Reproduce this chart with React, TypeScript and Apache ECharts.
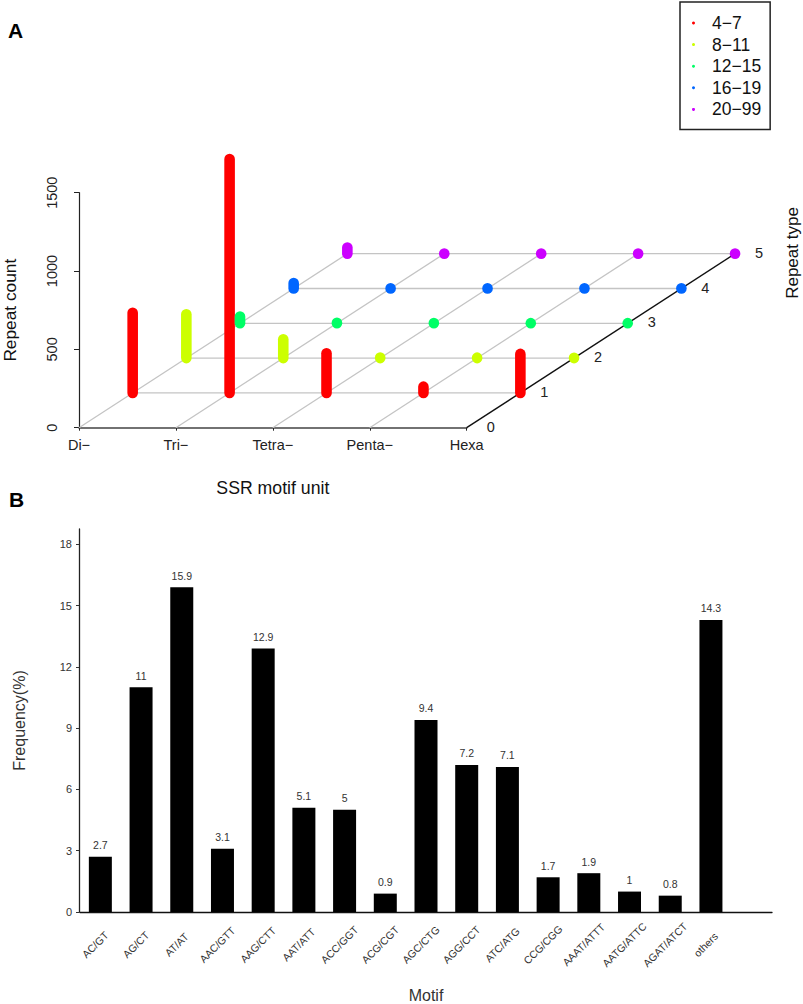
import React, { useEffect, useRef } from 'react';
import * as echarts from 'echarts';

const FONT = '"Liberation Sans", Arial, sans-serif';

// Panel A
const motifUnits = ['Di−', 'Tri−', 'Tetra−', 'Penta−', 'Hexa'];
const depthLevels = [0, 1, 2, 3, 4, 5];
const repeatClasses = ['4−7', '8−11', '12−15', '16−19', '20−99'];
const classColors = ['#ff0000', '#ccff00', '#00ff66', '#0066ff', '#cc00ff'];
const counts4to7 = [512, 1493, 253, 40, 249];
const counts8to11 = [280, 120, 4, 3, 2];
const counts12to15 = [43, 3, 2, 1, 1];
const counts16to19 = [35, 2, 1, 1, 1];
const counts20to99 = [40, 1, 1, 1, 1];
const classCounts = [counts4to7, counts8to11, counts12to15, counts16to19, counts20to99];

// Panel B
const motifs = [
  'AC/GT', 'AG/CT', 'AT/AT', 'AAC/GTT', 'AAG/CTT', 'AAT/ATT', 'ACC/GGT', 'ACG/CGT',
  'AGC/CTG', 'AGG/CCT', 'ATC/ATG', 'CCG/CGG', 'AAAT/ATTT', 'AATG/ATTC', 'AGAT/ATCT', 'others', '',
];
const frequencies = [2.7, 11, 15.9, 3.1, 12.9, 5.1, 5, 0.9, 9.4, 7.2, 7.1, 1.7, 1.9, 1, 0.8, 14.3, null];
const frequencyTicks = [0, 3, 6, 9, 12, 15, 18];

// oblique projection of the depth axis, px per repeat type
const DEPTH_DX = 53.67;
const DEPTH_DY = -34.8;

const shear = (p: number[], depth: number) => [p[0] + depth * DEPTH_DX, p[1] + depth * DEPTH_DY];

const App: React.FC = () => {
  const chartRef = useRef<HTMLDivElement>(null);

  useEffect(() => {
    if (!chartRef.current) return;
    const chart = echarts.init(chartRef.current, null, { renderer: 'svg' });

    const lastUnit = motifUnits.length - 1;
    const lastDepth = depthLevels[depthLevels.length - 1];
    const floorLines = [
      ...motifUnits.map((_, i) => [i, 0, i, lastDepth]),
      ...depthLevels.slice(1).map((d) => [0, d, lastUnit, d]),
    ];

    const option: any = {
      animation: false,
      textStyle: { fontFamily: FONT },
      legend: {
        left: 680,
        top: 2,
        orient: 'vertical',
        data: repeatClasses,
        icon: 'circle',
        itemWidth: 3,
        itemHeight: 3,
        itemGap: 3.6,
        padding: [12, 9, 11, 12],
        borderColor: '#222',
        borderWidth: 1.5,
        selectedMode: false,
        textStyle: { fontSize: 17.5, color: '#111', fontFamily: FONT, padding: [0, 0, 0, 12] },
      },
      graphic: [
        { type: 'text', x: 8, y: 20, style: { text: 'A', font: `bold 21px ${FONT}`, fill: '#000' } },
        { type: 'text', x: 9, y: 489, style: { text: 'B', font: `bold 21px ${FONT}`, fill: '#000' } },
        {
          type: 'text',
          x: 792,
          y: 253,
          rotation: Math.PI / 2,
          style: {
            text: 'Repeat type',
            font: `17px ${FONT}`,
            fill: '#111',
            align: 'center',
            verticalAlign: 'middle',
          },
        },
      ],
      grid: [
        { left: 77.3, top: 192.7, width: 389.4, height: 235 },
        { left: 80, top: 529, width: 692, height: 385 },
      ],
      xAxis: [
        {
          type: 'category',
          gridIndex: 0,
          data: motifUnits,
          boundaryGap: false,
          name: 'SSR motif unit',
          nameLocation: 'middle',
          nameGap: 51,
          nameTextStyle: { fontSize: 17.7, color: '#111', fontFamily: FONT },
          axisLine: { lineStyle: { color: '#444', width: 1.6 } },
          axisTick: { length: 3, lineStyle: { color: '#222', width: 1 } },
          axisLabel: { interval: 0, margin: 10, fontSize: 14.5, color: '#222', fontFamily: FONT },
        },
        {
          type: 'category',
          gridIndex: 1,
          data: motifs,
          name: 'Motif',
          nameLocation: 'middle',
          nameGap: 75,
          nameTextStyle: { fontSize: 16, color: '#333', fontFamily: FONT },
          axisLine: { lineStyle: { color: '#111', width: 1.3 } },
          axisTick: { inside: true, length: 3, interval: 0, lineStyle: { color: '#333', width: 1 } },
          axisLabel: {
            interval: 0,
            rotate: 45,
            align: 'center',
            verticalAlign: 'middle',
            padding: [0, 14, 12, 0],
            margin: 28,
            fontSize: 10.5,
            color: '#333',
            fontFamily: FONT,
          },
        },
      ],
      yAxis: [
        {
          type: 'value',
          gridIndex: 0,
          min: 0,
          max: 1500,
          interval: 500,
          name: 'Repeat count',
          nameLocation: 'middle',
          nameGap: 61,
          nameTextStyle: { fontSize: 17.3, color: '#111', fontFamily: FONT },
          axisLine: { show: true, lineStyle: { color: '#222', width: 1.2 } },
          axisTick: { show: true, length: 5, lineStyle: { color: '#222', width: 1 } },
          axisLabel: {
            rotate: 90,
            margin: 20,
            fontSize: 14.5,
            color: '#222',
            fontFamily: FONT,
            formatter: (v: number) => String(v),
          },
          splitLine: { show: false },
        },
        {
          type: 'value',
          gridIndex: 1,
          min: 0,
          max: 18.75,
          offset: 1,
          name: 'Frequency(%)',
          nameLocation: 'middle',
          nameGap: 52,
          nameTextStyle: { fontSize: 16, color: '#333', fontFamily: FONT },
          axisLine: { show: true, lineStyle: { color: '#222', width: 1.3 } },
          axisTick: { show: true, length: 3, customValues: frequencyTicks, lineStyle: { color: '#333', width: 1 } },
          axisLabel: { customValues: frequencyTicks, margin: 7, fontSize: 11, color: '#333', fontFamily: FONT },
          splitLine: { show: false },
        },
      ],
      series: [
        {
          type: 'custom',
          xAxisIndex: 0,
          yAxisIndex: 0,
          silent: true,
          data: floorLines,
          encode: { x: 0, y: 1 },
          renderItem: (_: any, api: any) => {
            const [x0, d0, x1, d1] = [api.value(0), api.value(1), api.value(2), api.value(3)];
            const a = shear(api.coord([x0, 0]), d0);
            const b = shear(api.coord([x1, 0]), d1);
            const isEdge = x0 === lastUnit && x1 === lastUnit;
            return {
              type: 'line',
              shape: { x1: a[0], y1: a[1], x2: b[0], y2: b[1] },
              style: { stroke: isEdge ? '#111' : '#c4c4c4', lineWidth: isEdge ? 1.4 : 1.3 },
            };
          },
        },
        {
          type: 'custom',
          xAxisIndex: 0,
          yAxisIndex: 0,
          silent: true,
          data: depthLevels.map((d) => [lastUnit, d]),
          encode: { x: 0, y: 1 },
          renderItem: (_: any, api: any) => {
            const p = shear(api.coord([api.value(0), 0]), api.value(1));
            return {
              type: 'text',
              x: p[0] + 24,
              y: p[1] - 1,
              style: {
                text: String(api.value(1)),
                font: `14.5px ${FONT}`,
                fill: '#222',
                align: 'center',
                verticalAlign: 'middle',
              },
            };
          },
        },
        ...repeatClasses.map((name, k) => ({
          name,
          type: 'custom',
          xAxisIndex: 0,
          yAxisIndex: 0,
          silent: true,
          itemStyle: { color: classColors[k] },
          data: classCounts[k].map((v, i) => [i, v]),
          encode: { x: 0, y: 1 },
          renderItem: (_: any, api: any) => {
            const base = shear(api.coord([api.value(0), 0]), k + 1);
            const top = shear(api.coord([api.value(0), api.value(1)]), k + 1);
            return {
              type: 'line',
              shape: { x1: base[0], y1: base[1], x2: top[0], y2: top[1] },
              style: { stroke: classColors[k], lineWidth: 10.6, lineCap: 'round' },
            };
          },
        })),
        {
          type: 'bar',
          xAxisIndex: 1,
          yAxisIndex: 1,
          data: frequencies,
          barWidth: 23,
          itemStyle: { color: '#000' },
          label: {
            show: true,
            position: 'top',
            distance: 6,
            fontSize: 10.5,
            color: '#333',
            fontFamily: FONT,
          },
        },
      ],
    };

    chart.setOption(option);

    return () => {
      chart.dispose();
    };
  }, []);

  return (
    <div
      ref={chartRef}
      style={{ position: 'absolute', left: 0, top: 0, width: 803, height: 1004, background: '#fff' }}
    />
  );
};

export default App;
